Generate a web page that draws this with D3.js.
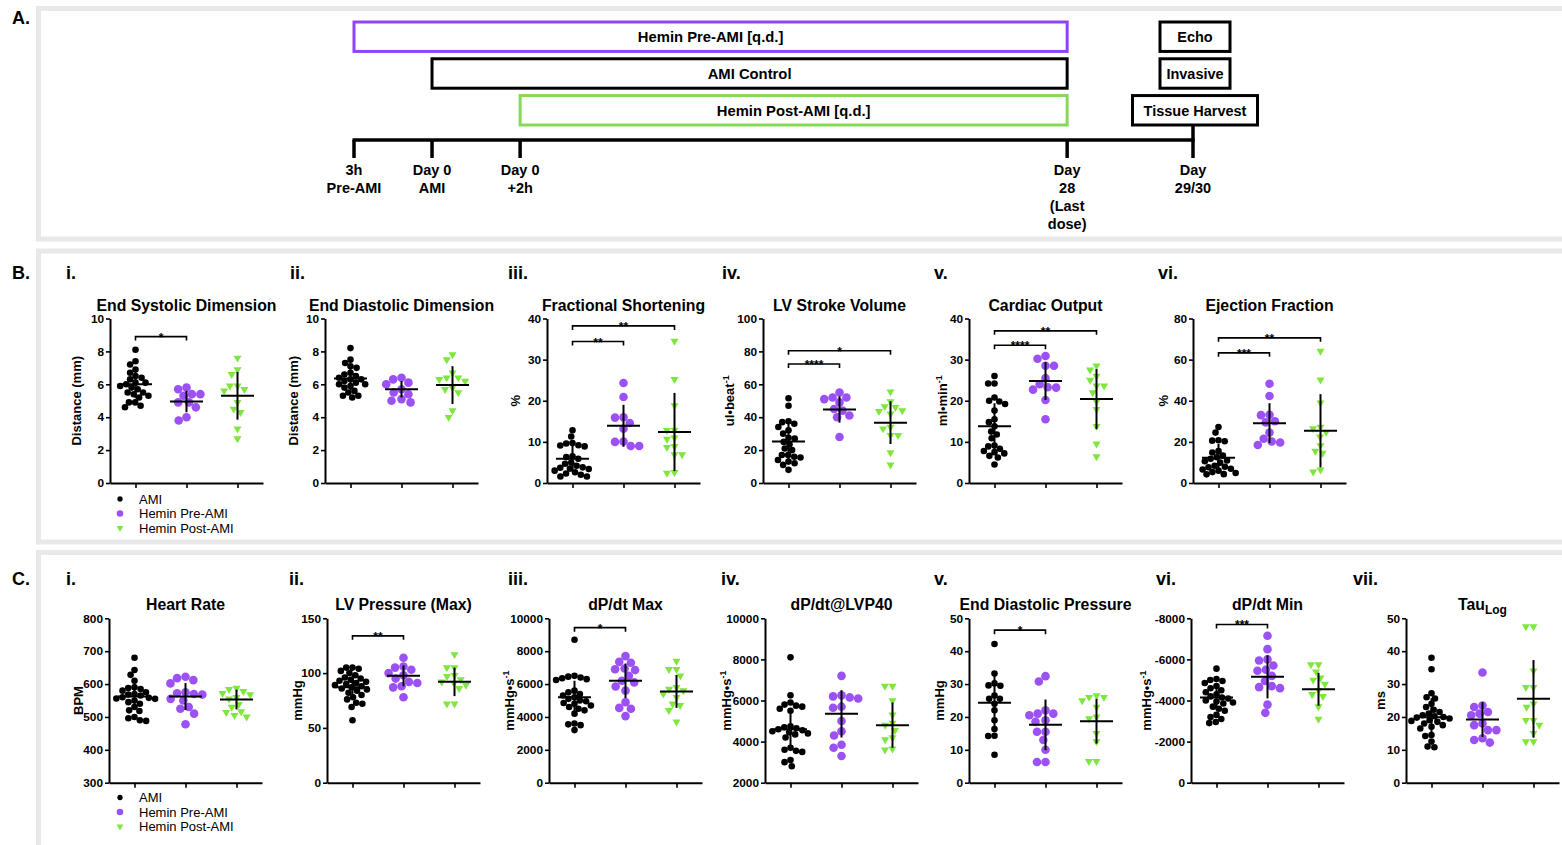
<!DOCTYPE html>
<html>
<head>
<meta charset="utf-8">
<script src="https://cdn.jsdelivr.net/npm/d3@7"></script>
<style>
  body { margin: 0; background: #fff; }
  text { font-family: "Liberation Sans", Arial, Helvetica, sans-serif; }
</style>
</head>
<body>
<script>
// ---- panel A: study timeline ----
const stopLabels = [["3h", "Pre-AMI"], ["Day 0", "AMI"], ["Day 0", "+2h"], ["Day", "28", "(Last", "dose)"], ["Day", "29/30"]];
const stopPos = [0, 9.3, 19.8, 85, 100];          // schematic position along timeline
const regimens = ["Hemin Pre-AMI [q.d.]", "AMI Control", "Hemin Post-AMI [q.d.]"];
const regimenStart = [0, 1, 2];                    // index of the stop each regimen begins at
const regimenEnd = 3;
const readouts = ["Echo", "Invasive", "Tissue Harvest"];

// ---- groups ----
const groups = ["AMI", "Hemin Pre-AMI", "Hemin Post-AMI"];

// ---- B: echo ----
const esdAMI = [8.1, 7.4, 7.2, 6.9, 6.7, 6.5, 6.4, 6.3, 6.1, 6.1, 6.0, 5.9, 5.8, 5.7, 5.5, 5.5, 5.4, 5.3, 5.2, 4.9, 4.9, 4.7, 4.6];
const esdPre = [5.8, 5.7, 5.4, 5.4, 5.3, 4.9, 4.9, 4.6, 4.0, 3.8];
const esdPost = [7.6, 6.9, 6.6, 5.9, 5.9, 5.7, 5.6, 4.9, 4.5, 4.3, 3.3, 2.7];
const esdMean = [6.0, 4.95, 5.3], esdSD = [0.85, 0.65, 1.45];
const esdSig = [[0, 1, "*", 8.9]];

const eddAMI = [8.2, 7.5, 7.3, 7.1, 7.0, 6.7, 6.6, 6.5, 6.4, 6.3, 6.3, 6.2, 6.1, 6.0, 6.0, 5.9, 5.8, 5.6, 5.5, 5.3, 5.3, 5.2];
const eddPre = [6.4, 6.3, 6.1, 6.0, 5.7, 5.5, 5.4, 5.1, 5.0, 4.9];
const eddPost = [7.8, 7.5, 6.7, 6.4, 6.4, 6.3, 6.2, 5.8, 5.7, 5.5, 4.4, 4.0];
const eddMean = [6.35, 5.7, 5.95], eddSD = [0.7, 0.5, 1.15];

const fsAMI = [12.8, 11.3, 9.7, 9.6, 9.2, 9.1, 8.9, 6.5, 6.3, 5.9, 5.0, 4.7, 4.2, 3.8, 3.7, 3.5, 3.4, 3.0, 2.6, 2.3, 2.0, 1.6, 1.6];
const fsPre = [24.3, 20.9, 16.0, 15.9, 14.6, 13.2, 10.0, 10.1, 9.0, 9.0];
const fsPost = [34.5, 25.2, 18.8, 12.9, 12.8, 11.0, 10.7, 8.9, 8.7, 6.9, 6.9, 2.6, 2.4];
const fsMean = [5.9, 13.9, 12.4], fsSD = [3.2, 5.1, 9.5];
const fsSig = [[0, 1, "**", 34.4], [0, 2, "**", 38.2]];

const svAMI = [51.5, 47, 37.5, 37, 36, 34, 32, 30, 27.5, 27, 25, 23.5, 21, 20, 17, 17, 16, 15.5, 14, 13, 12, 11, 8];
const svPre = [55, 52, 52, 51, 49, 45, 44, 41, 40, 28];
const svPost = [55.5, 49.5, 46.5, 46, 44, 43.5, 42, 34, 33, 29, 29, 18.5, 11];
const svMean = [25.3, 44.7, 36.7], svSD = [11, 8, 13];
const svSig = [[0, 1, "****", 72.3], [0, 2, "*", 80.4]];

const coAMI = [26, 24.2, 24.2, 20.8, 20, 19.8, 19.2, 17.6, 15.5, 14.8, 13.8, 12.5, 11.8, 10.9, 9.1, 8.9, 8.3, 7.8, 7.5, 7.2, 6.6, 6.2, 4.5];
const coPre = [30.9, 30.2, 28.5, 28.5, 25.5, 24.0, 23.3, 23.2, 22.7, 20.2, 15.5];
const coPost = [28.5, 27.5, 26, 25, 23.6, 23.6, 22, 19.8, 17.9, 13.8, 9.5, 6.4];
const coMean = [13.8, 24.8, 20.4], coSD = [5.6, 4.6, 7.3];
const coSig = [[0, 1, "****", 33.5], [0, 2, "**", 37]];

const efAMI = [27.2, 24.5, 20.8, 20.6, 20.3, 15.5, 14.8, 13.3, 12.5, 11.8, 11.0, 10.6, 9.9, 8.4, 7.9, 7.7, 6.9, 6.6, 6.0, 5.3, 4.9, 4.3, 4.2];
const efPre = [48.3, 42.3, 33.2, 33.0, 30, 29.5, 24.5, 21.5, 20.2, 19.7, 18.5];
const efPost = [64.2, 50.2, 39, 27.2, 26.5, 24.7, 22.5, 18.2, 15.5, 14.5, 6.4, 5.4];
const efMean = [12.3, 29.1, 25.4], efSD = [6.7, 9.7, 17.8];
const efSig = [[0, 1, "***", 63.3], [0, 2, "**", 70.6]];

// ---- C: invasive haemodynamics ----
const hrAMI = [680, 643, 628, 610, 590, 588, 585, 580, 575, 570, 568, 565, 560, 558, 556, 555, 550, 545, 540, 530, 520, 518, 500, 496, 490, 488];
const hrPre = [622, 618, 612, 602, 575, 572, 570, 568, 555, 550, 530, 525, 510, 478];
const hrPost = [588, 584, 578, 572, 568, 560, 555, 538, 530, 516, 514, 505, 500];
const hrMean = [562, 562, 553], hrSD = [40, 41, 30];

const lvpAMI = [105, 105, 104, 102, 100, 98, 96, 95, 94, 93, 92, 91, 90, 89, 88, 87, 86, 85, 84, 82, 80, 78, 76, 73, 72, 69, 57];
const lvpPre = [114, 106, 105, 103, 100, 98, 95, 92, 91, 88, 87, 78];
const lvpPost = [117, 105, 105, 98, 97, 94, 92, 91, 89, 86, 72, 72];
const lvpMean = [87, 97.5, 92], lvpSD = [11, 9.5, 13];
const lvpSig = [[0, 1, "**", 134]];

const dpmaxAMI = [8700, 6500, 6450, 6400, 6350, 6300, 6250, 5600, 5500, 5400, 5300, 5200, 5100, 5000, 4950, 4850, 4800, 4700, 4600, 4500, 4400, 4200, 3600, 3550, 3500, 3200];
const dpmaxPre = [7700, 7350, 7300, 6950, 6900, 6850, 6500, 6200, 6100, 5850, 5600, 4900, 4550, 4500, 4050];
const dpmaxPost = [7400, 6900, 6900, 6500, 5800, 5700, 5600, 5400, 5200, 4800, 4700, 4400, 3700];
const dpmaxMean = [5200, 6200, 5550], dpmaxSD = [1000, 1050, 1000];
const dpmaxSig = [[0, 1, "*", 9430]];

const dp40AMI = [8100, 6250, 5900, 5800, 5750, 5700, 5600, 5500, 4750, 4700, 4650, 4600, 4550, 4500, 4450, 4400, 4350, 4200, 3700, 3600, 3550, 3500, 3100, 3000, 2800];
const dp40Pre = [7200, 6250, 6200, 6150, 6100, 5700, 5650, 5000, 4500, 4300, 3850, 3700, 3300];
const dp40Post = [6700, 6700, 6000, 5300, 4900, 4800, 4550, 4200, 4100, 3650, 3600];
const dp40Mean = [4600, 5350, 4800], dp40SD = [950, 1150, 1100];

const edpAMI = [42.2, 33.2, 30.2, 29.6, 29.5, 26.5, 25.5, 25.5, 24, 22, 19, 16.3, 14.3, 14.2, 8.5];
const edpPre = [32.4, 30.8, 22, 21, 21, 20.5, 19, 18.5, 15.5, 15.5, 13, 10, 6.3, 6.3];
const edpPost = [26.5, 26, 26, 25, 23, 20, 19.5, 15, 12.5, 6.5, 6.5];
const edpMean = [24.3, 17.6, 18.7], edpSD = [8.5, 7.7, 6.8];
const edpSig = [[0, 1, "*", 46.4]];

const dpminAMI = [-5550, -5050, -5000, -4950, -4850, -4700, -4600, -4500, -4400, -4300, -4200, -4150, -4100, -4000, -3950, -3900, -3850, -3700, -3600, -3500, -3300, -3200, -3100, -2950, -2900];
const dpminPre = [-7150, -6500, -6000, -5950, -5700, -5500, -5450, -5200, -4950, -4700, -4650, -4600, -3800, -3400];
const dpminPost = [-5750, -5750, -5400, -5100, -5000, -4800, -4500, -4300, -4200, -3700, -3100];
const dpminMean = [-4150, -5150, -4550], dpminSD = [600, 1050, 800];
const dpminSig = [[0, 1, "***", -7700]];

const tauAMI = [38, 34.5, 27.2, 26, 25.6, 24, 23, 22.2, 21.5, 21, 20.5, 20.2, 20, 19.8, 19.5, 19, 18.8, 18.5, 18, 17.5, 17, 16.5, 14.5, 14.2, 12.5, 11, 10.8];
const tauPre = [33.5, 23.5, 23, 21.5, 21, 20.5, 18, 17.5, 16, 16, 13.5, 13, 12.2];
const tauPost = [47.5, 47.5, 34, 29, 29, 24, 23, 19, 19, 17.5, 15, 12.5, 12.5];
const tauMean = [19.9, 19.2, 25.5], tauSD = [5.8, 5.3, 11.8];

// ---- drawing ----
const width = 1562, height = 845;
const colors = ["#000000", "#9b51f5", "#7ee63c"];
const symbols = [d3.symbol(d3.symbolCircle, 34), d3.symbol(d3.symbolCircle, 58), d3.symbol(d3.symbolTriangle, 28)];
const spacing = [6.3, 8.5, 7.6];

const svg = d3.select("body").append("svg")
  .attr("width", width)
  .attr("height", height);

// grey frames around the three parts
for (let [top, bottom] of [[6, 241.5], [248.5, 544.5], [550, 900]]) {
  svg.append("rect")
    .attr("x", 38.5).attr("y", top + 2.5)
    .attr("width", 1600).attr("height", bottom - top - 5)
    .attr("fill", "none").attr("stroke", "#e8e8e8").attr("stroke-width", 5);
}

for (let [lab, y] of [["A.", 24], ["B.", 279], ["C.", 585]]) {
  svg.append("text").attr("x", 12).attr("y", y).text(lab)
    .attr("font-size", 18).attr("font-weight", "bold");
}

// ---------- panel A ----------
(function timeline() {
  const tx = d3.scaleLinear().domain([0, 100]).range([354, 1193]);
  const row = d3.scaleBand().domain(d3.range(3)).range([22, 125]).paddingInner(0.2);
  const lineY = 140;
  const regColors = ["#8f45f7", "#000", "#86d958"];
  const g = svg.append("g");

  regimens.forEach((r, i) => {
    const x0 = tx(stopPos[regimenStart[i]]), x1 = tx(stopPos[regimenEnd]);
    g.append("rect")
      .attr("x", x0).attr("y", row(i))
      .attr("width", x1 - x0).attr("height", row.bandwidth())
      .attr("fill", "none").attr("stroke", regColors[i]).attr("stroke-width", 3);
    g.append("text")
      .attr("x", (x0 + x1) / 2).attr("y", row(i) + row.bandwidth() / 2)
      .attr("dy", "0.36em").attr("text-anchor", "middle")
      .attr("font-size", 14.8).attr("font-weight", "bold")
      .text(r);
  });

  const last = tx(stopPos[stopPos.length - 1]);
  const boxW = [70, 70, 125];
  readouts.forEach((r, i) => {
    g.append("rect")
      .attr("x", last + 2 - boxW[i] / 2).attr("y", row(i))
      .attr("width", boxW[i]).attr("height", row.bandwidth())
      .attr("fill", "none").attr("stroke", "#000").attr("stroke-width", 3);
    g.append("text")
      .attr("x", last + 2).attr("y", row(i) + row.bandwidth() / 2)
      .attr("dy", "0.36em").attr("text-anchor", "middle")
      .attr("font-size", 14.5).attr("font-weight", "bold")
      .text(r);
  });

  g.append("line")
    .attr("x1", tx(0) - 1.5).attr("x2", last + 1.5)
    .attr("y1", lineY).attr("y2", lineY)
    .attr("stroke", "#000").attr("stroke-width", 3.5);
  g.append("line")
    .attr("x1", last).attr("x2", last)
    .attr("y1", row(2) + row.bandwidth()).attr("y2", lineY)
    .attr("stroke", "#000").attr("stroke-width", 3.5);

  stopPos.forEach((p, i) => {
    g.append("line")
      .attr("x1", tx(p)).attr("x2", tx(p))
      .attr("y1", lineY).attr("y2", lineY + 18)
      .attr("stroke", "#000").attr("stroke-width", 3.5);
    const t = g.append("text")
      .attr("text-anchor", "middle")
      .attr("font-size", 14.5).attr("font-weight", "bold");
    stopLabels[i].forEach((s, k) => {
      t.append("tspan").attr("x", tx(p)).attr("y", 175 + k * 18).text(s);
    });
  });
})();

// ---------- scatter panels ----------
function swarm(ys, d) {
  const order = d3.range(ys.length).sort((a, b) => ys[a] - ys[b]);
  const xs = new Array(ys.length);
  const placed = [];
  for (let i of order) {
    const yi = ys[i];
    const blocked = [];
    for (let q of placed) {
      const dy = Math.abs(q.y - yi);
      if (dy < d) {
        const w = Math.sqrt(d * d - dy * dy);
        blocked.push([q.x - w, q.x + w]);
      }
    }
    const cands = [0];
    blocked.forEach(([a, b]) => cands.push(a, b));
    cands.sort((a, b) => Math.abs(a) - Math.abs(b));
    const xo = cands.find(c => blocked.every(([a, b]) => c <= a + 1e-6 || c >= b - 1e-6));
    xs[i] = xo;
    placed.push({ x: xo, y: yi });
  }
  return xs;
}

const rowB = { top: 318.5, bottom: 483, titleY: 311, romanY: 279 };
const rowC = { top: 618.3, bottom: 782.7, titleY: 610, romanY: 585 };

const panelsB = [
  { roman: "i.", rx: 66, title: "End Systolic Dimension", ylab: "Distance (mm)", lx: 34, dom: [0, 10], ticks: [0, 2, 4, 6, 8, 10], ax: 110, vals: [esdAMI, esdPre, esdPost], mean: esdMean, sd: esdSD, sig: esdSig },
  { roman: "ii.", rx: 290, title: "End Diastolic Dimension", ylab: "Distance (mm)", lx: 32, dom: [0, 10], ticks: [0, 2, 4, 6, 8, 10], ax: 325, vals: [eddAMI, eddPre, eddPost], mean: eddMean, sd: eddSD, sig: [] },
  { roman: "iii.", rx: 508, title: "Fractional Shortening", ylab: "%", lx: 32, dom: [0, 40], ticks: [0, 10, 20, 30, 40], ax: 547, vals: [fsAMI, fsPre, fsPost], mean: fsMean, sd: fsSD, sig: fsSig },
  { roman: "iv.", rx: 722, title: "LV Stroke Volume", ylab: "ul•beat", sup: "-1", lx: 34, dom: [0, 100], ticks: [0, 20, 40, 60, 80, 100], ax: 763, vals: [svAMI, svPre, svPost], mean: svMean, sd: svSD, sig: svSig },
  { roman: "v.", rx: 934, title: "Cardiac Output", ylab: "ml•min", sup: "-1", lx: 27, dom: [0, 40], ticks: [0, 10, 20, 30, 40], ax: 969, vals: [coAMI, coPre, coPost], mean: coMean, sd: coSD, sig: coSig },
  { roman: "vi.", rx: 1158, title: "Ejection Fraction", ylab: "%", lx: 30, dom: [0, 80], ticks: [0, 20, 40, 60, 80], ax: 1193, vals: [efAMI, efPre, efPost], mean: efMean, sd: efSD, sig: efSig }
];

const panelsC = [
  { roman: "i.", rx: 66, title: "Heart Rate", ylab: "BPM", lx: 31, dom: [300, 800], ticks: [300, 400, 500, 600, 700, 800], ax: 109, vals: [hrAMI, hrPre, hrPost], mean: hrMean, sd: hrSD, sig: [] },
  { roman: "ii.", rx: 289, title: "LV Pressure (Max)", ylab: "mmHg", lx: 30, dom: [0, 150], ticks: [0, 50, 100, 150], ax: 327, vals: [lvpAMI, lvpPre, lvpPost], mean: lvpMean, sd: lvpSD, sig: lvpSig },
  { roman: "iii.", rx: 508, title: "dP/dt Max", ylab: "mmHg•s", sup: "-1", lx: 40, dom: [0, 10000], ticks: [0, 2000, 4000, 6000, 8000, 10000], ax: 549, vals: [dpmaxAMI, dpmaxPre, dpmaxPost], mean: dpmaxMean, sd: dpmaxSD, sig: dpmaxSig },
  { roman: "iv.", rx: 721, title: "dP/dt@LVP40", ylab: "mmHg•s", sup: "-1", lx: 39, dom: [2000, 10000], ticks: [2000, 4000, 6000, 8000, 10000], ax: 765, vals: [dp40AMI, dp40Pre, dp40Post], mean: dp40Mean, sd: dp40SD, sig: [] },
  { roman: "v.", rx: 934, title: "End Diastolic Pressure", ylab: "mmHg", lx: 30, dom: [0, 50], ticks: [0, 10, 20, 30, 40, 50], ax: 969, vals: [edpAMI, edpPre, edpPost], mean: edpMean, sd: edpSD, sig: edpSig },
  { roman: "vi.", rx: 1156, title: "dP/dt Min", ylab: "mmHg•s", sup: "-1", lx: 45, dom: [0, -8000], ticks: [0, -2000, -4000, -6000, -8000], ax: 1191, vals: [dpminAMI, dpminPre, dpminPost], mean: dpminMean, sd: dpminSD, sig: dpminSig },
  { roman: "vii.", rx: 1353, title: "Tau", sub: "Log", ylab: "ms", lx: 26, dom: [0, 50], ticks: [0, 10, 20, 30, 40, 50], ax: 1406, vals: [tauAMI, tauPre, tauPost], mean: tauMean, sd: tauSD, sig: [] }
];

function drawPanel(p, row) {
  const g = svg.append("g");
  const x = d3.scalePoint().domain(groups).range([p.ax, p.ax + 153]).padding(0.5);
  const y = d3.scaleLinear().domain(p.dom).range([row.bottom, row.top]);

  g.append("text").attr("x", p.rx).attr("y", row.romanY).text(p.roman)
    .attr("font-size", 18).attr("font-weight", "bold");

  const title = g.append("text")
    .attr("x", p.ax + 76.5).attr("y", row.titleY)
    .attr("text-anchor", "middle")
    .attr("font-size", 15.8).attr("font-weight", "bold")
    .text(p.title);
  if (p.sub) title.append("tspan").attr("dy", 4).attr("font-size", 12).text(p.sub);

  const yl = g.append("text")
    .attr("transform", `translate(${p.ax - p.lx},${(row.top + row.bottom) / 2}) rotate(-90)`)
    .attr("text-anchor", "middle").attr("dy", "0.36em")
    .attr("font-size", 13).attr("font-weight", "bold")
    .text(p.ylab);
  if (p.sup) yl.append("tspan").attr("dy", -5).attr("font-size", 9).text(p.sup);

  const yAxis = g.append("g")
    .attr("transform", `translate(${p.ax},0)`)
    .call(d3.axisLeft(y).tickValues(p.ticks).tickSize(4).tickSizeOuter(0).tickPadding(2).tickFormat(d => String(d)));
  const xAxis = g.append("g")
    .attr("transform", `translate(0,${row.bottom})`)
    .call(d3.axisBottom(x).tickSize(5).tickSizeOuter(0).tickFormat(""));
  for (let a of [yAxis, xAxis]) {
    a.select(".domain").attr("stroke-width", 2);
    a.selectAll(".tick line").attr("stroke-width", 1.6);
    a.selectAll("text")
      .attr("font-family", "'Liberation Sans', Arial, sans-serif")
      .attr("font-size", 11.8).attr("font-weight", "bold").attr("fill", "#000");
  }

  p.vals.forEach((vals, i) => {
    const cx = x(groups[i]);
    const ys = vals.map(v => y(v));
    const offs = swarm(ys, spacing[i]);
    g.append("g").selectAll("path")
      .data(vals)
      .join("path")
      .attr("d", symbols[i])
      .attr("transform", (d, k) => `translate(${cx + offs[k]},${ys[k]})` + (i === 2 ? " rotate(180)" : ""))
      .attr("fill", colors[i]);
  });

  p.mean.forEach((m, i) => {
    const cx = x(groups[i]);
    g.append("line")
      .attr("x1", cx).attr("x2", cx)
      .attr("y1", y(m - p.sd[i])).attr("y2", y(m + p.sd[i]))
      .attr("stroke", "#000").attr("stroke-width", 2);
    g.append("line")
      .attr("x1", cx - 16.5).attr("x2", cx + 16.5)
      .attr("y1", y(m)).attr("y2", y(m))
      .attr("stroke", "#000").attr("stroke-width", 2);
  });

  for (let [a, b, lab, v] of p.sig) {
    const yy = y(v), x1 = x(groups[a]), x2 = x(groups[b]);
    g.append("path")
      .attr("d", `M${x1},${yy + 4}V${yy}H${x2}V${yy + 4}`)
      .attr("fill", "none").attr("stroke", "#000").attr("stroke-width", 1.6);
    g.append("text")
      .attr("x", (x1 + x2) / 2).attr("y", yy + 5)
      .attr("text-anchor", "middle")
      .attr("font-size", 12).attr("font-weight", "bold")
      .text(lab);
  }
}

panelsB.forEach(p => drawPanel(p, rowB));
panelsC.forEach(p => drawPanel(p, rowC));

// legends under the first panel of B and C
function legend(y0) {
  groups.forEach((gname, i) => {
    const yy = y0 + i * 14.5;
    svg.append("path")
      .attr("d", d3.symbol(i === 2 ? d3.symbolTriangle : d3.symbolCircle, i === 0 ? 22 : (i === 1 ? 34 : 20)))
      .attr("transform", `translate(120,${yy})` + (i === 2 ? " rotate(180)" : ""))
      .attr("fill", colors[i]);
    svg.append("text")
      .attr("x", 139).attr("y", yy).attr("dy", "0.36em")
      .attr("font-size", 13)
      .text(gname);
  });
}
legend(499);
legend(797.5);
</script>
</body>
</html>
